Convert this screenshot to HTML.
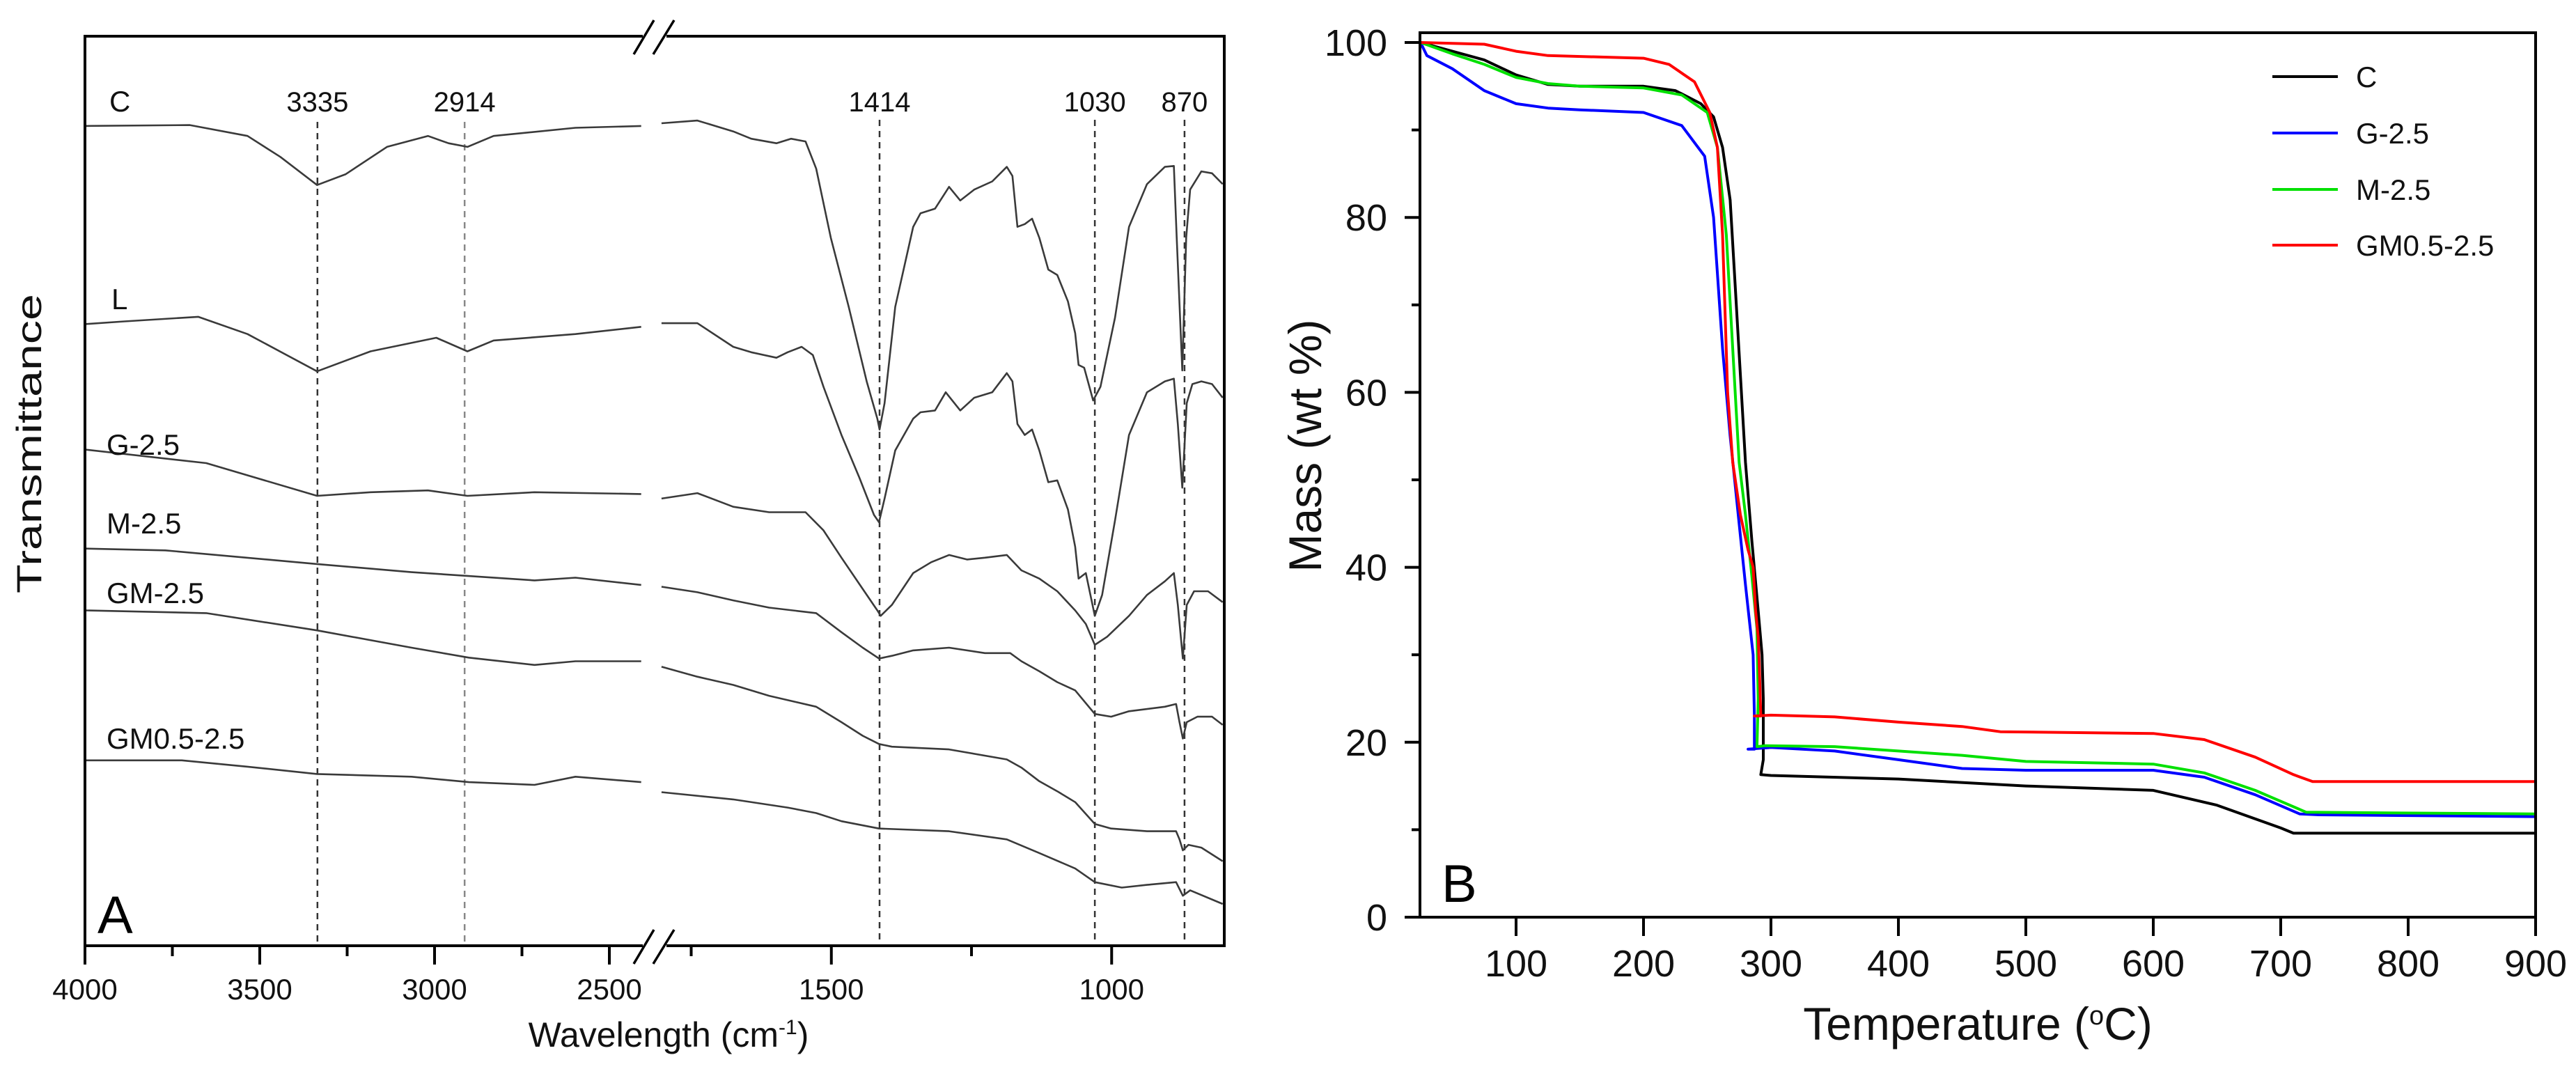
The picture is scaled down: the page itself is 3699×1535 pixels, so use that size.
<!DOCTYPE html>
<html><head><meta charset="utf-8"><style>
html,body{margin:0;padding:0;background:#fff;}
svg{display:block;font-family:"Liberation Sans",Arial,sans-serif;}
</style></head><body>
<svg id="fig" width="3699" height="1535" viewBox="0 0 3699 1535" xmlns="http://www.w3.org/2000/svg">
<rect width="3699" height="1535" fill="#fff"/>
<g id="panelA"></g>
<g id="panelB"></g>
</svg>
<script>
// ---------- FTIR data (panel A) ----------
const ftirNames = ["C","L","G-2.5","M-2.5","GM-2.5","GM0.5-2.5"];
const cWn = [4000,3700,3535,3441,3336,3254,3136,3019,2960,2906,2831,2597,2409, 1803,1739,1675,1643,1598,1572,1546,1527,1501,1469,1437,1418,1414,1405,1386,1354,1341,1315,1290,1270,1245,1213,1187,1177,1168,1155,1142,1129,1113,1097,1078,1065,1059,1049,1033,1020,994,969,937,905,889,884,874,867,860,840,821,802];
const cT  = [90.2,90.3,89.1,86.8,83.7,84.9,87.9,89.1,88.3,87.9,89.1,90.0,90.2, 90.5,90.8,89.6,88.8,88.3,88.8,88.5,85.5,77.9,70.3,62.1,58.0,56.8,59.7,70.3,79.1,80.6,81.1,83.5,82.0,83.2,84.1,85.7,84.7,79.1,79.4,80.0,77.9,74.4,73.8,70.9,67.4,63.9,63.6,60.0,61.5,69.1,79.1,83.8,85.7,85.8,77.9,63.3,77.9,83.2,85.2,85.0,83.8];
const lWn = [4000,3887,3676,3535,3336,3183,2995,2906,2831,2597,2409, 1803,1739,1675,1643,1598,1578,1553,1533,1514,1482,1450,1424,1415,1405,1386,1354,1341,1315,1296,1270,1245,1213,1187,1177,1168,1155,1142,1129,1113,1097,1078,1065,1059,1046,1030,1017,994,969,937,905,889,882,874,866,856,840,821,802];
const lT  = [68.4,68.7,69.2,67.3,63.2,65.4,66.9,65.4,66.6,67.3,68.1, 68.5,68.5,65.9,65.3,64.7,65.3,65.9,65.0,61.5,56.2,51.5,47.4,46.6,49.2,54.5,58.0,58.7,58.9,60.9,58.9,60.3,60.9,63.0,62.1,57.4,56.2,56.8,54.5,51.0,51.2,48.0,43.9,40.4,41.0,36.3,38.6,46.8,56.2,60.9,62.1,62.4,57.4,50.4,59.7,61.8,62.1,61.8,60.3];
const gWn = [4000,3653,3336,3183,3019,2906,2714,2409, 1803,1739,1675,1611,1546,1514,1482,1450,1418,1412,1392,1354,1322,1290,1258,1226,1187,1161,1129,1097,1065,1046,1030,1008,969,937,905,889,882,873,866,853,828,802];
const gT  = [54.6,53.1,49.5,49.9,50.1,49.5,49.9,49.7, 49.2,49.8,48.3,47.7,47.7,45.7,42.7,39.8,36.9,36.3,37.5,41.0,42.2,43.0,42.5,42.7,43.0,41.3,40.4,39.0,36.9,35.4,33.1,34.0,36.3,38.6,40.1,41.0,37.5,31.6,37.5,39.0,39.0,37.8];
const mWn = [4000,3770,3336,3066,2714,2597,2409, 1803,1739,1675,1611,1527,1482,1444,1415,1392,1354,1290,1226,1181,1161,1129,1097,1065,1030,1001,969,905,885,879,873,866,847,821,802];
const mT  = [43.7,43.5,42.0,41.1,40.2,40.5,39.7, 39.5,38.9,38.0,37.2,36.6,34.5,32.8,31.6,31.9,32.5,32.8,32.2,32.2,31.3,30.2,29.0,28.1,25.5,25.2,25.8,26.3,26.6,24.6,22.8,24.6,25.2,25.2,24.3];
const gmWn = [4000,3653,3336,3066,2902,2714,2597,2409, 1803,1739,1675,1611,1527,1482,1444,1415,1392,1290,1187,1161,1129,1097,1065,1030,1001,937,885,879,873,863,840,802];
const gmT  = [36.9,36.6,34.7,32.8,31.7,30.9,31.3,31.3, 30.7,29.6,28.7,27.5,26.3,24.6,23.1,22.2,21.9,21.6,20.5,19.6,18.1,17.0,15.8,13.4,12.9,12.6,12.6,11.7,10.5,11.1,10.8,9.3];
const gm5Wn = [4000,3723,3535,3336,3066,2902,2714,2597,2409, 1803,1675,1578,1527,1482,1415,1290,1187,1129,1065,1030,982,937,885,873,860,802];
const gm5T  = [20.4,20.4,19.7,18.9,18.6,18.0,17.7,18.6,18.0, 16.9,16.1,15.2,14.6,13.7,12.9,12.6,11.7,10.2,8.5,7.0,6.4,6.7,7.0,5.5,6.1,4.6];
const ftirWn = [cWn,lWn,gWn,mWn,gmWn,gm5Wn];
const ftirT  = [cT,lT,gT,mT,gmT,gm5T];
const peakLabels = [3335,2914,1414,1030,870];
const xTicksA = [4000,3500,3000,2500,1500,1000];
const xMinorA = [3750,3250,2750,1750,1250];

// ---------- TGA data (panel B) ----------
const tgaNames = ["C","G-2.5","M-2.5","GM0.5-2.5"];
const tgaColors = ["#000000","#0000ff","#00e000","#ff0000"];
const cTemp = [25,50,75,100,125,150,200,225,245,255,262,268,272,276,280,285,290,293,294,294,292,300,400,500,600,650,700,710,900];
const cMass = [100,99,98,96.3,95.2,95,95,94.5,93,91.5,88,82,72,62,52,43,35,30,25,18,16.3,16.2,15.8,15,14.5,12.8,10.2,9.6,9.6];
const gTemp = [25,30,50,75,100,125,150,200,230,248,255,262,268,275,280,286,287,287,282,290,300,350,400,450,500,600,640,680,715,730,900];
const gMass = [100,98.5,97,94.5,93,92.5,92.3,92,90.5,87,80,65,55,45,38,30,23,19.2,19.2,19.3,19.4,19,18,17,16.8,16.8,16,14,11.8,11.7,11.5];
const mTemp = [25,50,75,100,125,150,200,230,250,258,265,270,275,280,285,289,290,289,295,350,400,450,500,600,640,680,720,900];
const mMass = [100,98.7,97.5,96,95.3,95,94.8,94,92,88,78,65,52,46,39,33,25,19.5,19.6,19.5,19,18.5,17.8,17.5,16.5,14.5,12,11.8];
const rTemp = [25,75,100,125,200,220,240,252,258,262,266,270,276,282,286,288,290,291,292,287,300,350,400,450,480,600,640,680,710,725,900];
const rMass = [100,99.8,99,98.5,98.2,97.5,95.5,92,88,78,60,52,46,42,40,35,32,28,23,23,23.1,22.9,22.3,21.8,21.2,21,20.3,18.3,16.3,15.5,15.5];
const tgaTemp = [cTemp,gTemp,mTemp,rTemp];
const tgaMass = [cMass,gMass,mMass,rMass];
const xTicksB = [100,200,300,400,500,600,700,800,900];
const yTicksB = [0,20,40,60,80,100];
const yMinorB = [10,30,50,70,90];

const NS = "http://www.w3.org/2000/svg";
function mk(parent, tag, attrs, text){
  const e = document.createElementNS(NS, tag);
  for (const k in attrs) e.setAttribute(k, attrs[k]);
  if (text !== undefined) e.textContent = text;
  parent.appendChild(e);
  return e;
}

// ================= Panel A =================
const A = document.getElementById('panelA');
const AL=122, AR=1758, AT=52, AB=1358;
function xA(v){ return v >= 2000 ? AL + (4000 - v) * 0.502 : 1263 + (1414 - v) * 0.805; }
function yA(t){ return AB - t * 13.05; }

// dashed peak lines
peakLabels.forEach((p, i) => {
  const x = xA(p);
  const top = (i < 2) ? 175 : 172;
  const ln = mk(A, 'line', {x1:x, y1:top, x2:x, y2:AB-6, stroke: i===1 ? '#888' : '#333', 'stroke-width':2.5, 'stroke-dasharray':'9,7'});
  
  
  const tx = mk(A, 'text', {x:x, y:160, 'font-size':40, 'text-anchor':'middle', fill:'#111'}, String(p));
  
  
});

// curves
ftirWn.forEach((wn, ci) => {
  const tv = ftirT[ci];
  let d1 = '', d2 = '';
  wn.forEach((v, k) => {
    const pt = xA(v).toFixed(1) + ',' + yA(tv[k]).toFixed(1);
    if (v >= 2000) d1 += (d1 ? 'L' : 'M') + pt;
    else d2 += (d2 ? 'L' : 'M') + pt;
  });
  const p = mk(A, 'path', {d: d1 + ' ' + d2, fill:'none', stroke:'#3a3a3a', 'stroke-width':2.6, 'stroke-linejoin':'round'});
  
  
});

// curve labels
const curveLabelY = [160, 444, 653, 766, 866, 1075];
const curveLabelX = [157, 160, 153, 153, 153, 153];
ftirNames.forEach((n, i) => {
  const t = mk(A, 'text', {x:curveLabelX[i], y:curveLabelY[i], 'font-size':42, fill:'#111'}, n);
  
  
});

// axes frame with breaks
const frame = mk(A, 'path', {d:`M923,${AT}H${AL}V${AB}H923 M957,${AB}H${AR}V${AT}H957`, fill:'none', stroke:'#000', 'stroke-width':4});


[[AT],[AB]].forEach(([y]) => {
  const b1 = mk(A, 'line', {x1:910, y1:y+26, x2:939, y2:y-23, stroke:'#000', 'stroke-width':3.5});
  
  
  const b2 = mk(A, 'line', {x1:938, y1:y+26, x2:968, y2:y-23, stroke:'#000', 'stroke-width':3.5});
  
  
});
xTicksA.forEach(v => {
  const x = xA(v);
  const tk = mk(A, 'line', {x1:x, y1:AB, x2:x, y2:AB+27, stroke:'#000', 'stroke-width':4});
  
  
  const tl = mk(A, 'text', {x:x, y:1435, 'font-size':42, 'text-anchor':'middle', fill:'#111'}, String(v));
  
  
});
xMinorA.forEach(v => {
  const x = xA(v);
  const tk = mk(A, 'line', {x1:x, y1:AB, x2:x, y2:AB+15, stroke:'#000', 'stroke-width':4});
  
  
});
const pa = mk(A, 'text', {x:140, y:1340, 'font-size':76, fill:'#000'}, 'A');


const xtA = mk(A, 'text', {x:960, y:1503, 'font-size':50, 'text-anchor':'middle', fill:'#111'});


xtA.innerHTML = 'Wavelength (cm<tspan dy="-18" font-size="30">-1</tspan><tspan dy="18">)</tspan>';
const ytA = mk(A, 'text', {x:0, y:0, 'font-size':50, 'text-anchor':'middle', fill:'#111', transform:'translate(59,637) rotate(-90)', textLength:430, lengthAdjust:'spacingAndGlyphs'}, 'Transmittance');



// ================= Panel B =================
const B = document.getElementById('panelB');
const BL=2039, BR=3641, BT=47, BB=1317;
function xB(t){ return BR - (900 - t) * 1.83; }
function yB(m){ return BB - m * 12.56; }

tgaTemp.forEach((tt, ci) => {
  const mv = tgaMass[ci];
  let d = '';
  tt.forEach((t, k) => { d += (k ? 'L' : 'M') + xB(t).toFixed(1) + ',' + yB(mv[k]).toFixed(1); });
  const p = mk(B, 'path', {d:d, fill:'none', stroke:tgaColors[ci], 'stroke-width':4, 'stroke-linejoin':'round'});
  
  
});

const fb = mk(B, 'rect', {x:BL, y:BT, width:BR-BL, height:BB-BT, fill:'none', stroke:'#000', 'stroke-width':4});


xTicksB.forEach(v => {
  const x = xB(v);
  const tk = mk(B, 'line', {x1:x, y1:BB, x2:x, y2:BB+27, stroke:'#000', 'stroke-width':4});
  
  
  const tl = mk(B, 'text', {x:x, y:1402, 'font-size':54, 'text-anchor':'middle', fill:'#111'}, String(v));
  
  
});
yTicksB.forEach(v => {
  const y = yB(v);
  const tk = mk(B, 'line', {x1:BL-22, y1:y, x2:BL, y2:y, stroke:'#000', 'stroke-width':4});
  
  
  const tl = mk(B, 'text', {x:1992, y:y+19, 'font-size':54, 'text-anchor':'end', fill:'#111'}, String(v));
  
  
});
yMinorB.forEach(v => {
  const y = yB(v);
  const tk = mk(B, 'line', {x1:BL-12, y1:y, x2:BL, y2:y, stroke:'#000', 'stroke-width':4});
  
  
});
const pb = mk(B, 'text', {x:2070, y:1295, 'font-size':76, fill:'#000'}, 'B');


const xtB = mk(B, 'text', {x:2840, y:1493, 'font-size':66, 'text-anchor':'middle', fill:'#111'});


xtB.innerHTML = 'Temperature (<tspan dy="-22" font-size="38">o</tspan><tspan dy="22">C)</tspan>';
const ytB = mk(B, 'text', {x:0, y:0, 'font-size':66, 'text-anchor':'middle', fill:'#111', transform:'translate(1897,640) rotate(-90)'}, 'Mass (wt %)');



// legend
const legY = [110, 191, 272, 352];
tgaNames.forEach((n, i) => {
  const g = mk(B, 'g', {});
  
  
  mk(g, 'line', {x1:3263, y1:legY[i], x2:3357, y2:legY[i], stroke:tgaColors[i], 'stroke-width':4});
  mk(g, 'text', {x:3383, y:legY[i]+15, 'font-size':42, fill:'#111'}, n);
});
</script>
</body></html>
